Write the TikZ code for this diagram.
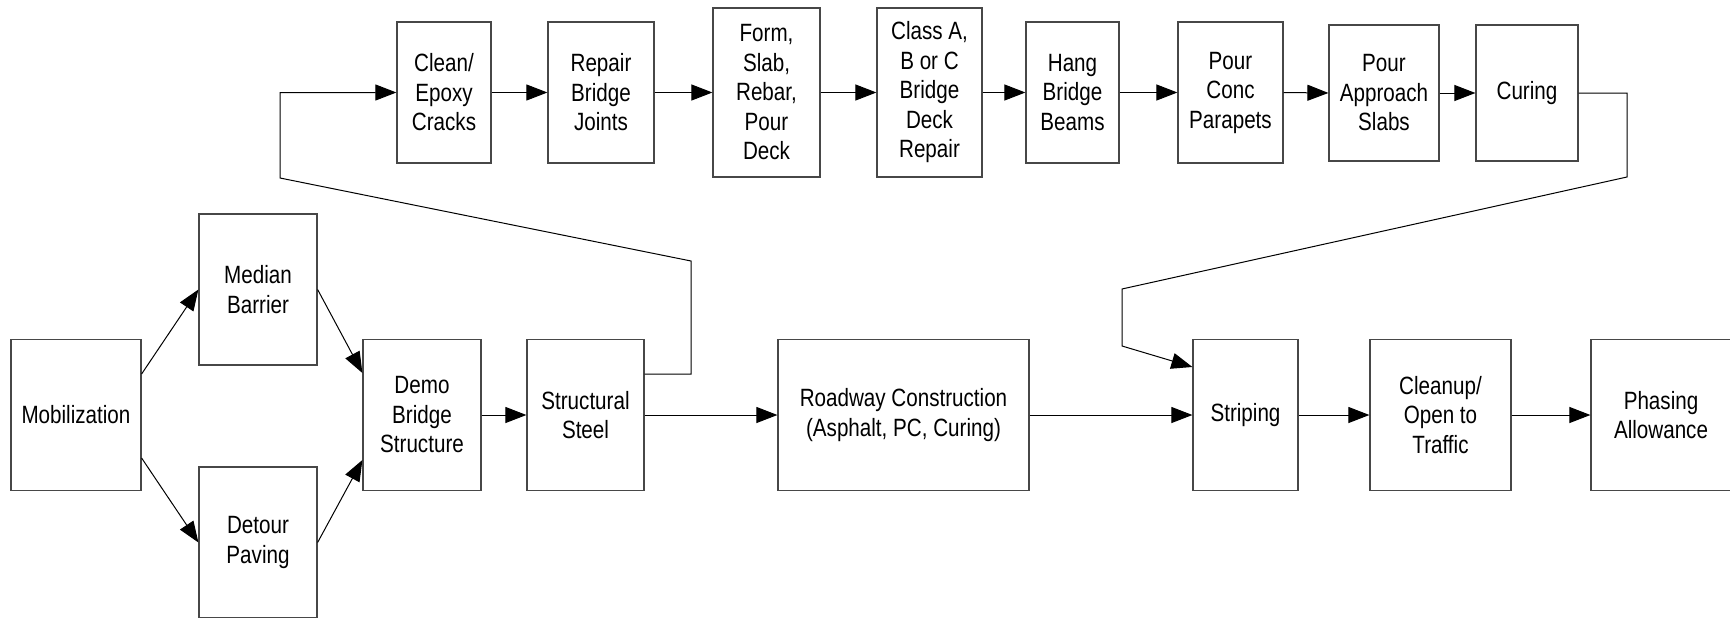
\documentclass[tikz,border=0pt]{standalone}
\usepackage{fontspec}
\setmainfont{Liberation Sans}[FakeStretch=0.825]
\usetikzlibrary{arrows.meta}
\begin{document}
\begin{tikzpicture}[x=1pt,y=-1pt,
  box/.style={draw=black!72,line width=1.2pt,rectangle,inner sep=0pt,align=center,
    font=\fontsize{25}{29.5}\selectfont},
  arr/.style={draw=black,line width=1pt,-{Triangle[length=21pt,width=16pt]}}]
\useasboundingbox (0,0) rectangle (1730,618);
% bottom row
\node[box,minimum width=130pt,minimum height=151pt] (mob) at (76,415) {Mobilization};
\node[box,minimum width=118pt,minimum height=151pt] (med) at (258,289.5) {Median\\Barrier};
\node[box,minimum width=118pt,minimum height=151pt] (det) at (258,542.5) {Detour\\Paving};
\node[box,minimum width=118pt,minimum height=151pt] (demo) at (422,415) {Demo\\Bridge\\Structure};
\node[box,minimum width=117pt,minimum height=151pt] (steel) at (585.5,415) {Structural\\Steel};
\node[box,minimum width=251pt,minimum height=151pt] (road) at (903.5,415) {Roadway Construction\\(Asphalt, PC, Curing)};
\node[box,minimum width=105pt,minimum height=151pt] (strip) at (1245.5,415) {Striping};
\node[box,minimum width=141pt,minimum height=151pt] (clean) at (1440.5,415) {Cleanup/\\Open to\\Traffic};
\node[box,minimum width=140pt,minimum height=151pt] (phase) at (1661,415) {Phasing\\Allowance};
% top row
\node[box,minimum width=94pt,minimum height=141pt] (epoxy) at (444,92.5) {Clean/\\Epoxy\\Cracks};
\node[box,minimum width=106pt,minimum height=141pt] (joints) at (601,92.5) {Repair\\Bridge\\Joints};
\node[box,minimum width=107pt,minimum height=169pt] (form) at (766.5,92.5) {Form,\\Slab,\\Rebar,\\Pour\\Deck};
\node[box,minimum width=105pt,minimum height=169pt] (classa) at (929.5,92.5) {Class A,\\B or C\\Bridge\\Deck\\Repair};
\node[box,minimum width=93pt,minimum height=141pt] (hang) at (1072.5,92.5) {Hang\\Bridge\\Beams};
\node[box,minimum width=105pt,minimum height=141pt] (conc) at (1230.5,92.5) {Pour\\Conc\\Parapets};
\node[box,minimum width=110pt,minimum height=136pt] (appr) at (1384,93) {Pour\\Approach\\Slabs};
\node[box,minimum width=102pt,minimum height=136pt] (curing) at (1527,93) {Curing};
% loop coordinates
\coordinate (l1) at (691,261);
\coordinate (l2) at (280,178);
\coordinate (r1) at (1627,177);
\coordinate (r2) at (1122,289);
\coordinate (r3) at (1122,346);
% connectors
\draw[arr] ([yshift=41pt]mob.east) -- (med.west);
\draw[arr] ([yshift=-43pt]mob.east) -- (det.west);
\draw[arr] (med.east) -- ([yshift=42pt]demo.west);
\draw[arr] (det.east) -- ([yshift=-45pt]demo.west);
\draw[arr] (demo.east) -- (steel.west);
\draw[arr] (steel.east) -- (road.west);
\draw[arr] (road.east) -- (strip.west);
\draw[arr] (strip.east) -- (clean.west);
\draw[arr] (clean.east) -- (phase.west);
\draw[arr] (epoxy.east) -- (joints.west);
\draw[arr] (joints.east) -- (form.west);
\draw[arr] (form.east) -- (classa.west);
\draw[arr] (classa.east) -- (hang.west);
\draw[arr] (hang.east) -- (conc.west);
\draw[arr] (conc.east) -- (appr.west);
\draw[arr] (appr.east) -- (curing.west);
\draw[arr] ([yshift=41pt]steel.east) -| (l1) -- (l2) |- (epoxy.west);
\draw[arr] (curing.east) -| (r1) -- (r2) -- (r3) -- ([yshift=48pt]strip.west);
\end{tikzpicture}
\end{document}
